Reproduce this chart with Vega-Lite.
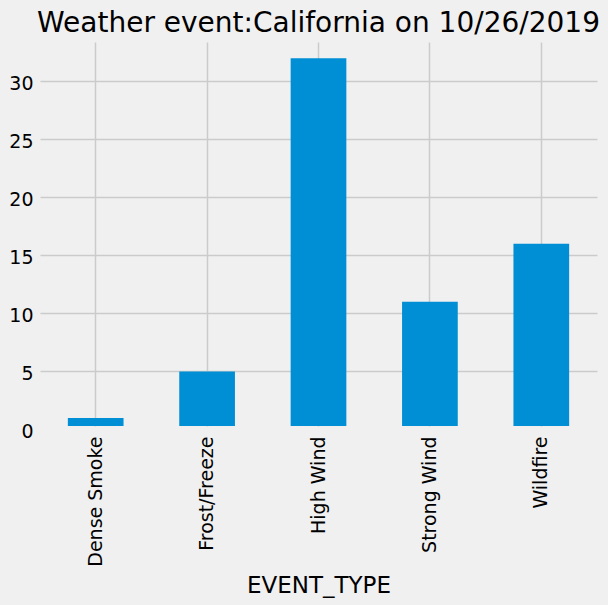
{
  "$schema": "https://vega.github.io/schema/vega-lite/v6.json",
  "width": 557,
  "height": 384,
  "autosize": {"type": "none"},
  "padding": {"left": 40, "top": 42, "right": 11, "bottom": 179},
  "background": "#f0f0f0",
  "title": {
    "text": "Weather event:California on 10/26/2019",
    "fontSize": 28,
    "font": "DejaVu Sans",
    "fontWeight": "normal",
    "color": "#000000",
    "anchor": "middle",
    "dx": 0,
    "offset": 4
  },
  "config": {
    "view": {"stroke": null, "fill": "#f0f0f0"},
    "font": "DejaVu Sans"
  },
  "data": {
    "values": [
      {"EVENT_TYPE": "Dense Smoke", "count": 1},
      {"EVENT_TYPE": "Frost/Freeze", "count": 5},
      {"EVENT_TYPE": "High Wind", "count": 32},
      {"EVENT_TYPE": "Strong Wind", "count": 11},
      {"EVENT_TYPE": "Wildfire", "count": 16}
    ]
  },
  "mark": {"type": "bar", "color": "#008fd5", "clip": true},
  "encoding": {
    "x": {
      "field": "EVENT_TYPE",
      "type": "nominal",
      "sort": null,
      "scale": {"paddingInner": 0.5, "paddingOuter": 0.25},
      "axis": {
        "title": "EVENT_TYPE",
        "titleFont": "DejaVu Sans",
        "titleFontSize": 23,
        "titleFontWeight": "normal",
        "titleColor": "#000000",
        "titlePadding": 8,
        "labelAngle": 270,
        "labelAlign": "right",
        "labelBaseline": "middle",
        "labelFontSize": 19,
        "labelColor": "#000000",
        "labelPadding": 10,
        "ticks": false,
        "domain": false,
        "grid": true,
        "gridColor": "#cbcbcb",
        "gridWidth": 1.5,
        "bandPosition": 0.5
      }
    },
    "y": {
      "field": "count",
      "type": "quantitative",
      "scale": {"domain": [0.3, 33.4], "zero": false, "nice": false},
      "axis": {
        "title": null,
        "values": [0.3, 5, 10, 15, 20, 25, 30],
        "labelExpr": "datum.value < 1 ? '0' : datum.label",
        "labelFontSize": 19,
        "labelColor": "#000000",
        "labelPadding": 7,
        "labelOffset": {"condition": {"test": "datum.value < 1", "value": 5.5}, "value": 2},
        "ticks": false,
        "domain": false,
        "grid": true,
        "gridColor": "#cbcbcb",
        "gridWidth": 1.5,
        "gridOpacity": {"condition": {"test": "datum.value < 1", "value": 0}, "value": 1}
      }
    }
  }
}
